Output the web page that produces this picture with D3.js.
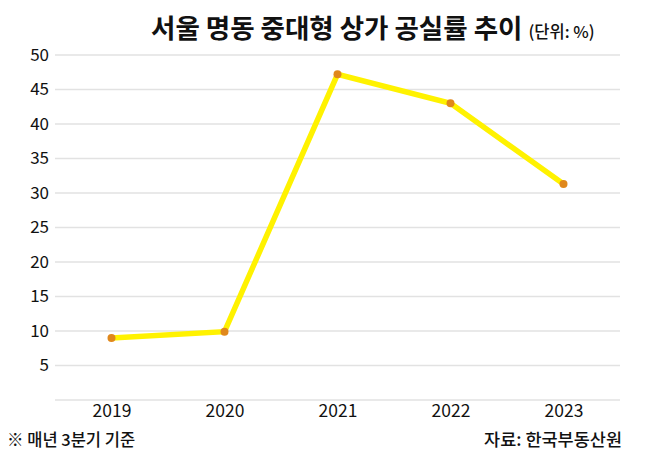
<!DOCTYPE html>
<html><head><meta charset="utf-8">
<script src="https://cdn.jsdelivr.net/npm/d3@7"></script>
<style>
body{margin:0;background:#fff;}
text{font-family:"Noto Sans CJK KR","Noto Sans",sans-serif;}
</style></head>
<body><svg id="c" width="658" height="456"></svg>
<script>
const years = ["2019","2020","2021","2022","2023"];
const vacancy = [9.0, 9.9, 47.2, 43.0, 31.3];
const yTicks = [0,5,10,15,20,25,30,35,40,45,50];
const title = "서울 명동 중대형 상가 공실률 추이";
const unit = "(단위: %)";
const note = "※ 매년 3분기 기준";
const source = "자료: 한국부동산원";

const svg = d3.select("#c");
const x = d3.scalePoint().domain(years).range([55,620]).padding(0.5);
const y = d3.scaleLinear().domain([0,50]).range([400,55]);

// grid
svg.append("g").selectAll("line").data(yTicks).join("line")
  .attr("x1",55).attr("x2",620)
  .attr("y1",d=>y(d)).attr("y2",d=>y(d))
  .attr("stroke","#e2e2e2").attr("stroke-width",1.5);

// y labels
const yAxis = d3.axisLeft(y).tickValues(yTicks.filter(d=>d>0)).tickSize(0).tickPadding(0);
const gy = svg.append("g").attr("transform","translate(49,0)").call(yAxis);
gy.select(".domain").remove();
gy.selectAll("text").attr("font-size",17).attr("fill","#111")
  .style("font-family","'Noto Sans CJK KR','Noto Sans',sans-serif");

// x labels
const xAxis = d3.axisBottom(x).tickSize(0).tickPadding(0);
const gx = svg.append("g").attr("transform","translate(0,400)").call(xAxis);
gx.select(".domain").remove();
gx.selectAll("text").attr("font-size",17.5).attr("fill","#111").attr("dy","0.95em")
  .style("font-family","'Noto Sans CJK KR','Noto Sans',sans-serif");

// line
const data = years.map((yr,i)=>({yr,v:vacancy[i]}));
svg.append("path").datum(data)
  .attr("d",d3.line().x(d=>x(d.yr)).y(d=>y(d.v)))
  .attr("fill","none").attr("stroke","#FFF200").attr("stroke-width",5.5)
  .attr("stroke-linejoin","miter");
svg.append("g").selectAll("circle").data(data).join("circle")
  .attr("cx",d=>x(d.yr)).attr("cy",d=>y(d.v)).attr("r",4)
  .attr("fill","#E0881C");

// title
const t = svg.append("text").attr("x",151).attr("y",38).attr("font-weight","bold").attr("fill","#111");
t.append("tspan").attr("font-size",26.5).text(title);
t.append("tspan").attr("font-size",16.5).attr("font-weight",500).attr("dx",6).text(unit);

// footer
svg.append("text").attr("x",7).attr("y",446).attr("font-size",16.5).attr("font-weight",500).attr("fill","#111").text(note);
svg.append("text").attr("x",622).attr("y",446).attr("text-anchor","end").attr("font-size",17.5).attr("font-weight",500).attr("fill","#111").text(source);
</script></body></html>
